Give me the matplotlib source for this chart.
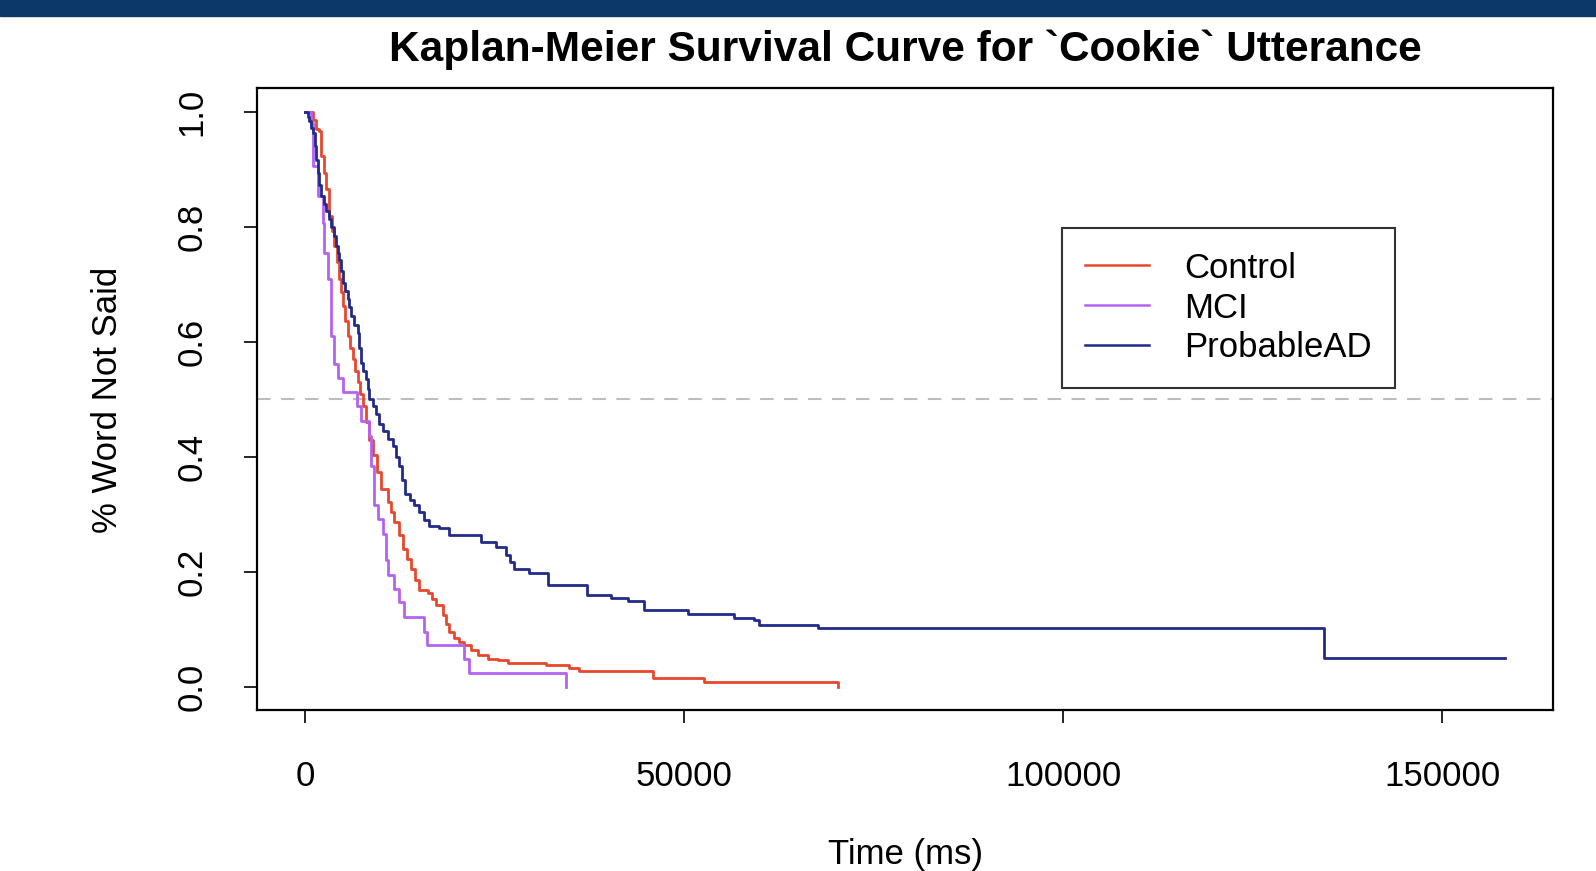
# -*- coding: utf-8 -*-
'''
Kaplan-Meier survival curves, `Cookie` utterance
'''
import matplotlib
matplotlib.use('Agg')
import matplotlib.pyplot as plt
from matplotlib.patches import Rectangle

plt.rcParams['font.family'] = ['Liberation Sans', 'DejaVu Sans']

groups = ['Control', 'MCI', 'ProbableAD']
colors = ['#e8472e', '#b462f2', '#232b8a']

# event times (ms) and survival after each step
ctrl_t = [0, 970, 1410, 1850, 2070, 2400, 2730, 3170, 3500, 3830, 4160, 4490, 4710, 4930,
          5260, 5590, 5920, 6250, 6580, 6910, 7240, 7570, 8010, 8450, 8890, 9440, 9990,
          10870, 11300, 11740, 12290, 12840, 13390, 13940, 14490, 15040, 16140, 16700,
          17240, 18120, 18560, 19000, 19660, 20300, 20970, 21850, 22740, 24060, 25400,
          26700, 31750, 34830, 36150, 45820, 52630, 70220]
ctrl_s = [1.0, 0.985, 0.969, 0.966, 0.922, 0.893, 0.865, 0.819, 0.793, 0.767, 0.738, 0.709,
          0.686, 0.663, 0.637, 0.611, 0.59, 0.570, 0.55, 0.530, 0.51, 0.489, 0.46, 0.43,
          0.403, 0.374, 0.345, 0.322, 0.305, 0.287, 0.264, 0.241, 0.223, 0.206, 0.187,
          0.169, 0.163, 0.153, 0.143, 0.125, 0.11, 0.0965, 0.085, 0.079, 0.073, 0.065,
          0.056, 0.050, 0.047, 0.043, 0.0387, 0.034, 0.028, 0.0168, 0.0087, 0.0]

mci_t = [0, 750, 970, 1630, 2290, 2510, 2950, 3390, 3830, 4350, 4930, 6820, 7350, 8440,
         8670, 9100, 9550, 10210, 10640, 10870, 11740, 12400, 13060, 15700, 16050, 20970,
         21630, 34390]
mci_s = [1.0, 0.98, 0.905, 0.853, 0.807, 0.755, 0.709, 0.611, 0.5615, 0.538, 0.5125, 0.489,
         0.463, 0.437, 0.385, 0.316, 0.293, 0.267, 0.2206, 0.1946, 0.1716, 0.1485, 0.1225,
         0.0965, 0.0733, 0.050, 0.0243, 0.0]

ad_t = [0, 300, 530, 750, 970, 1200, 1400, 1630, 1850, 2070, 2400, 2730, 3060, 3390, 3720,
        4050, 4270, 4490, 4710, 4930, 5260, 5590, 5810, 6030, 6470, 6910, 7130, 7350, 7570,
        8010, 8230, 8440, 8890, 9330, 9770, 10200, 10870, 11530, 11970, 12400, 12780,
        13150, 13770, 14380, 15000, 15700, 16360, 17680, 19000, 23180, 25150, 26470, 27000,
        27570, 29550, 31970, 37150, 40320, 42520, 44710, 50440, 56590, 59230, 59880, 67590,
        134400, 158300]
ad_s = [1.0, 0.99, 0.983, 0.972, 0.963, 0.94, 0.915, 0.894, 0.872, 0.853, 0.84, 0.827, 0.813,
        0.80, 0.783, 0.767, 0.755, 0.743, 0.723, 0.703, 0.688, 0.674, 0.66, 0.645, 0.63,
        0.616, 0.59, 0.564, 0.55, 0.535, 0.518, 0.50, 0.489, 0.474, 0.458, 0.445, 0.432,
        0.42, 0.40, 0.385, 0.36, 0.336, 0.326, 0.316, 0.305, 0.29, 0.281, 0.276, 0.264,
        0.253, 0.244, 0.229, 0.218, 0.206, 0.198, 0.177, 0.161, 0.155, 0.150, 0.134, 0.128,
        0.121, 0.117, 0.109, 0.103, 0.051, 0.051]

x_ticks = [0, 50000, 100000, 150000]
y_ticks = [0.0, 0.2, 0.4, 0.6, 0.8, 1.0]

fig = plt.figure(figsize=(15.96, 8.71), dpi=100)
fig.patches.append(Rectangle((0, 1 - 16 / 871), 1, 16 / 871, transform=fig.transFigure,
                             color='#0b3866', zorder=0))
ax = fig.add_axes([0.1613, 0.1844, 0.8119, 0.714])

ax.axhline(0.5, color='#bdbdbd', lw=1.5, ls=(0, (6.5, 5)), zorder=1)

for name, col, t, s in zip(groups, colors, [ctrl_t, mci_t, ad_t], [ctrl_s, mci_s, ad_s]):
    ax.step(t, s, where='post', color=col, lw=2.0, label=name, zorder=2)
# end of for

ax.set_xlim(-6332, 164632)
ax.set_ylim(-0.04, 1.04)
ax.set_xticks(x_ticks)
ax.set_xticklabels([str(v) for v in x_ticks])
ax.set_yticks(y_ticks)
ax.set_yticklabels(['%.1f' % v for v in y_ticks], rotation=90, va='center')
ax.tick_params(axis='both', length=9.5, width=1.2, labelsize=25, color='black')
ax.tick_params(axis='x', pad=26)
ax.tick_params(axis='y', pad=26)
for sp in ax.spines.values():
    sp.set_linewidth(1.6)

ax.set_title("Kaplan-Meier Survival Curve for `Cookie` Utterance", fontsize=30.5,
             fontweight='bold', pad=20)
ax.set_xlabel('Time (ms)', fontsize=25)
ax.xaxis.set_label_coords(0.5, -0.2325)
ax.xaxis.label.set_va('center')
ax.set_ylabel('% Word Not Said', fontsize=25)
ax.yaxis.set_label_coords(-0.1154, 0.5)
ax.yaxis.label.set_va('center')

leg = ax.legend(loc='upper left', bbox_to_anchor=(0.6206, 0.7757), fontsize=25,
                frameon=True, fancybox=False, edgecolor='black', handlelength=1.85,
                handletextpad=1.0, labelspacing=0.2, borderpad=0.68, borderaxespad=0)
leg.get_frame().set_linewidth(1.5)
for line in leg.get_lines():
    line.set_linewidth(1.8)

fig.savefig('out.png', dpi=100)
